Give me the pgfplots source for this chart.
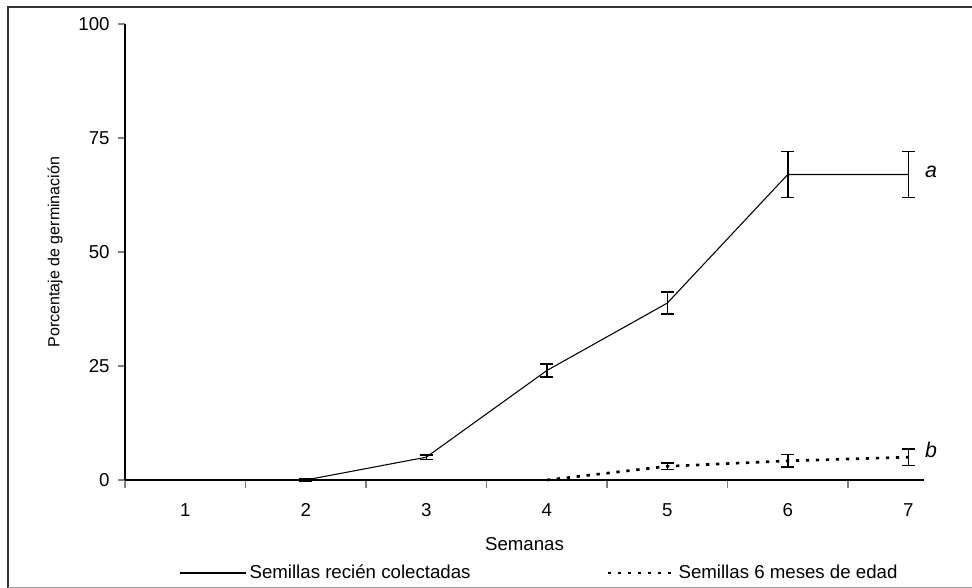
\documentclass[border=0pt]{standalone}
\usepackage{pgfplots}
\pgfplotsset{compat=1.18}
\usepackage{fontspec}
\setmainfont{Liberation Sans}
\begin{document}
\begin{tikzpicture}
\useasboundingbox (0pt,0pt) rectangle (729pt,441pt);
% frame
\draw[line width=1.2pt,black!80] (6pt,0.3pt) -- (6pt,435.8pt) -- (729.5pt,435.8pt);
\draw[line width=0.8pt,black!40] (6pt,0.4pt) -- (729.5pt,0.4pt);
\begin{axis}[
  at={(93.75pt,81pt)}, anchor=south west,
  scale only axis, width=599.25pt, height=342pt,
  xmin=0.5, xmax=7.13, ymin=0, ymax=100,
  axis x line*=bottom, axis y line*=left,
  axis line style={-, line width=0.9pt},
  xtick={1,2,3,4,5,6,7},
  minor xtick={0.5,1.5,2.5,3.5,4.5,5.5,6.5},
  major x tick style={draw=none},
  minor x tick style={line width=0.9pt},
  ytick={0,25,50,75,100},
  major y tick style={line width=0.9pt},
  tick align=outside,
  major tick length=5pt, minor tick length=6pt,
  /pgf/number format/assume math mode=true,
  tick label style={font=\fontsize{14}{16}\selectfont},
  xticklabel style={yshift=-9pt},
  yticklabel style={xshift=-3pt},
  xlabel={Semanas}, ylabel={Porcentaje de germinación},
  xlabel style={font=\fontsize{14}{16}\selectfont, yshift=-9pt},
  ylabel style={font=\fontsize{12}{14}\selectfont, yshift=5pt},
  clip=false,
  legend columns=2,
  legend style={at={(0.519,-0.204)}, anchor=center, draw=none, fill=none,
    font=\fontsize{14}{16}\selectfont,
    /tikz/every even column/.append style={column sep=100pt}},
  legend image code/.code={\draw[#1] (0pt,0pt) -- (50pt,0pt);},
  legend cell align=left,
]
\addplot[black, line width=0.8pt, mark=none,
  error bars/.cd, y dir=both, y explicit,
  error bar style={line width=1.1pt, solid},
  error mark options={rotate=90, mark size=4.8pt, line width=1.1pt, solid}]
  table[x=x, y=y, y error=e] {
x y e
2 0 0.3
3 5 0.5
4 24 1.4
5 38.8 2.4
6 67 5
7 67 5
};
\addlegendentry{Semillas recién colectadas}
\addplot[black, line width=2pt, dash pattern=on 2.5pt off 5pt, mark=none,
  error bars/.cd, y dir=both, y explicit,
  error bar style={line width=1.1pt, solid},
  error mark options={rotate=90, mark size=4.8pt, line width=1.1pt, solid}]
  table[x=x, y=y, y error=e] {
x y e
4 0 0
5 3 0.7
6 4.2 1.4
7 5 1.8
};
\addlegendentry{Semillas 6 meses de edad}
\node[anchor=west, font=\fontsize{16}{18}\selectfont\itshape] at (axis cs:7.1,67.5) {a};
\node[anchor=west, font=\fontsize{16}{18}\selectfont\itshape] at (axis cs:7.1,6.5) {b};
\end{axis}
\end{tikzpicture}
\end{document}
